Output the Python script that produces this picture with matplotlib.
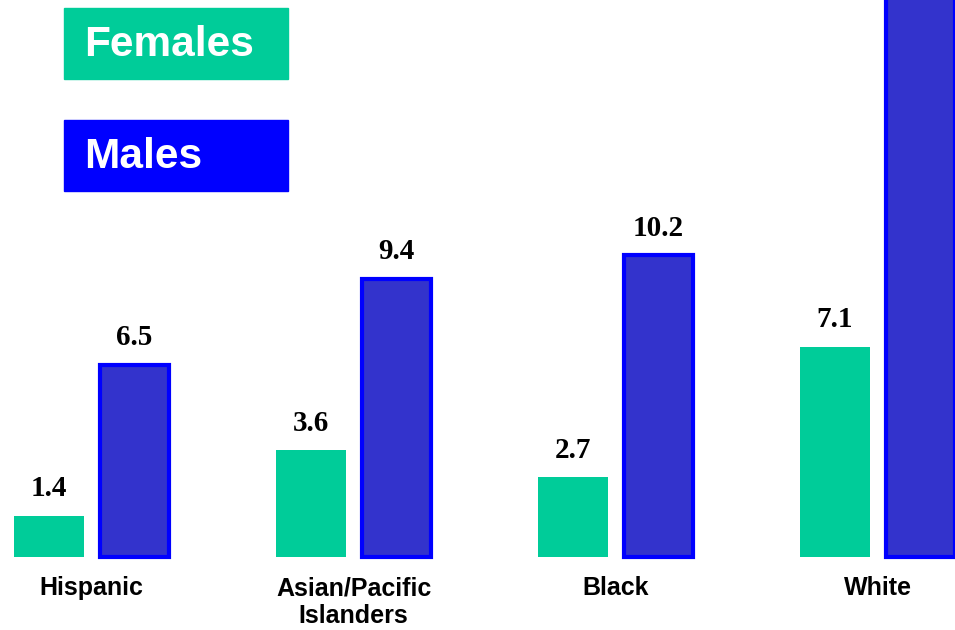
import matplotlib
matplotlib.use("Agg")
import matplotlib.pyplot as plt
import numpy as np

categories = ["Hispanic", "Asian/Pacific\nIslanders", "Black", "White"]
females = [1.4, 3.6, 2.7, 7.1]
males = [6.5, 9.4, 10.2, 19.5]
series_names = ["Females", "Males"]

fem_color = "#00CC99"
male_face = "#3333CC"
male_edge = "#0000FF"

W, H = 955, 630
fig = plt.figure(figsize=(W / 100, H / 100), dpi=100)
ax = fig.add_axes([0, 0, 1, 1])

px_x = 262.0      # pixels per group
px_y = 29.6       # pixels per unit
x0_px = 91.5      # group 0 center in px
base_px = 557.0   # baseline from top

ax.set_xlim(-x0_px / px_x, (W - x0_px) / px_x)
ax.set_ylim(-(H - base_px) / px_y, base_px / px_y)
ax.axis("off")

x = np.arange(len(categories))
off = 42.5 / px_x

ax.bar(x - off, females, width=70 / px_x, color=fem_color, edgecolor="none", zorder=2)
ax.bar(x + off, males, width=69 / px_x, color=male_face, edgecolor=male_edge,
       linewidth=3.0, zorder=2)

serif = ["Liberation Serif", "DejaVu Serif"]
sans = ["Liberation Sans", "DejaVu Sans"]

for xi, v in zip(x - off, females):
    ax.annotate(f"{v:.1f}", (xi, v), xytext=(0, 14), textcoords="offset points",
                ha="center", va="baseline", fontsize=21, fontweight="bold",
                family=serif)
for xi, v in zip(x + off, males):
    ax.annotate(f"{v:.1f}", (xi, v), xytext=(0, 14), textcoords="offset points",
                ha="center", va="baseline", fontsize=21, fontweight="bold",
                family=serif)

for xi, c in zip(x, categories):
    ax.text(xi, -(576 - base_px) / px_y, c, ha="center", va="top",
            fontsize=18, fontweight="bold", family=sans, linespacing=1.2)

# legend boxes (figure pixel coordinates)
def fig_rect(x1, y1, x2, y2, color):
    r = plt.Rectangle((x1 / W, 1 - y2 / H), (x2 - x1) / W, (y2 - y1) / H,
                      transform=fig.transFigure, color=color, zorder=5)
    fig.patches.append(r)

fig_rect(64, 8, 288, 79, fem_color)
fig_rect(64, 120, 288, 191, male_edge)
fig.text(84 / W, 1 - 45 / H, series_names[0], color="white", fontsize=30.5,
         fontweight="bold", family=sans, ha="left", va="center", zorder=6)
fig.text(84 / W, 1 - 157 / H, series_names[1], color="white", fontsize=30.5,
         fontweight="bold", family=sans, ha="left", va="center", zorder=6)

fig.savefig("out.png", dpi=100)
